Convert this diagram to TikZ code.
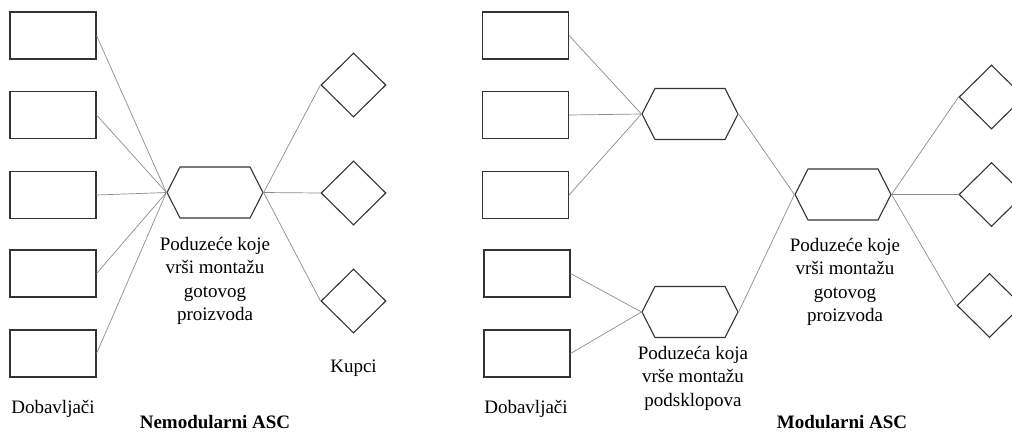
\documentclass[tikz,border=0pt]{standalone}
\usepackage{fontspec}
\setmainfont{Liberation Serif}
\usetikzlibrary{shapes.geometric,shapes.symbols}
\definecolor{shapeline}{HTML}{333333}
\definecolor{linkgray}{HTML}{8C8C8C}

\begin{document}
\begin{tikzpicture}[x=1pt,y=-1pt,
  box/.style={draw=shapeline, line width=1.1pt, minimum width=86pt, minimum height=47pt, inner sep=0pt},
  hexa/.style={signal, signal to=east and west, signal pointer angle=126, draw=shapeline,
               line width=1.1pt, minimum width=96pt, minimum height=51pt, inner sep=0pt},
  rhomb/.style={diamond, draw=shapeline, line width=1.1pt, minimum width=65pt, minimum height=64pt, inner sep=0pt},
  link/.style={draw=linkgray, line width=0.7pt},
  txt/.style={font=\fontsize{19}{23.5}\selectfont, align=center, inner sep=0pt},
  heading/.style={font=\fontsize{19}{23.5}\selectfont\bfseries, inner sep=0pt}]

\useasboundingbox (0,0) rectangle (1012,432);
\clip (0,0) rectangle (1012,432);

% ---------- non-modular supply chain ----------
\node[box] (s1) at (53,35.5) {};
\node[box] (s2) at (53,115) {};
\node[box] (s3) at (53,195) {};
\node[box] (s4) at (53,273.5) {};
\node[box] (s5) at (53,353.5) {};

\node[hexa] (asm) at (215,192.5) {};

\node[rhomb] (k1) at (353.5,85) {};
\node[rhomb] (k2) at (353.5,193) {};
\node[rhomb] (k3) at (353.5,301) {};

\foreach \s in {s1,s2,s3,s4,s5} \draw[link] (\s.east) -- (asm.west);
\foreach \k in {k1,k2,k3} \draw[link] (asm.east) -- (\k.west);

\node[txt] (asmtext) at (215,281) {Poduzeće koje\\vrši montažu\\gotovog\\proizvoda};
\node[txt] (kupci) at (353.5,368) {Kupci};
\node[txt] (dob1) at (53,409) {Dobavljači};
\node[heading] (title1) at (215,422) {Nemodularni ASC};

% ---------- modular supply chain ----------
\node[box] (m1) at (525.5,35.5) {};
\node[box] (m2) at (525.5,115) {};
\node[box] (m3) at (525.5,195) {};
\node[box] (m4) at (527,273.5) {};
\node[box] (m5) at (527,353.5) {};

\node[hexa] (subA) at (690,114) {};
\node[hexa] (subB) at (690,312) {};
\node[hexa] (final) at (843,194.5) {};

\node[rhomb] (c1) at (991.5,97) {};
\node[rhomb] (c2) at (991.5,194.5) {};
\node[rhomb] (c3) at (989.5,305.5) {};

\foreach \m in {m1,m2,m3} \draw[link] (\m.east) -- (subA.west);
\foreach \m in {m4,m5} \draw[link] (\m.east) -- (subB.west);
\draw[link] (subA.east) -- (final.west);
\draw[link] (subB.east) -- (final.west);
\foreach \c in {c1,c2,c3} \draw[link] (final.east) -- (\c.west);

\node[txt] (subtext) at (693,378) {Poduzeća koja\\vrše montažu\\podsklopova};
\node[txt] (finaltext) at (845,282) {Poduzeće koje\\vrši montažu\\gotovog\\proizvoda};
\node[txt] (dob2) at (526,409) {Dobavljači};
\node[heading] (title2) at (842,422) {Modularni ASC};
\end{tikzpicture}
\end{document}
